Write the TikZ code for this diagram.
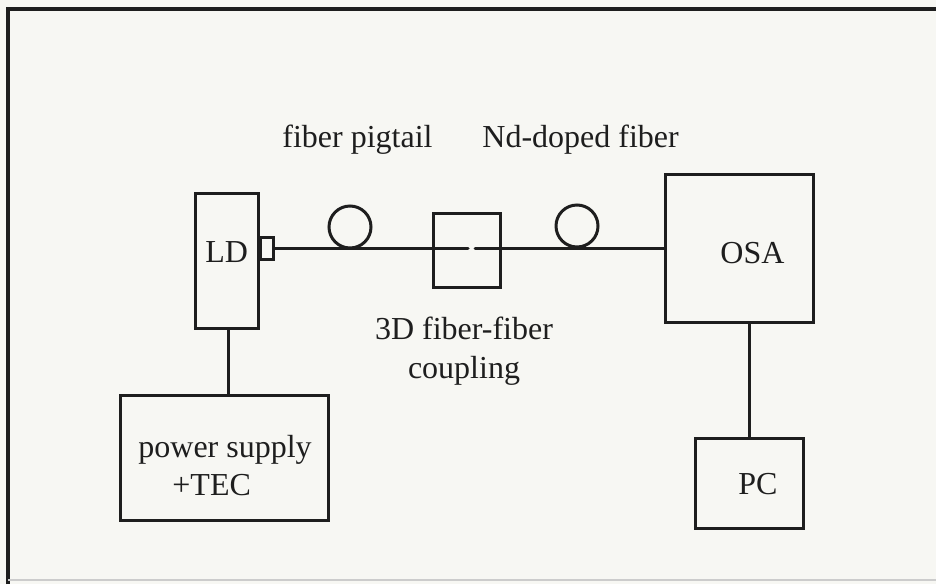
\documentclass[tikz,border=0pt]{standalone}
\usepackage{fontspec}
\setmainfont{Liberation Serif}
\definecolor{bg}{RGB}{247,247,243}
\definecolor{ink}{RGB}{30,30,30}
\begin{document}
\begin{tikzpicture}[x=0.5pt,y=-0.5pt,
  box/.style={draw=ink, line width=1.5pt, rectangle, inner sep=0pt},
  fib/.style={draw=ink, line width=1.5pt},
  loopc/.style={draw=ink, line width=1.5pt, circle, inner sep=0pt, minimum size=21pt},
  txt/.style={anchor=base west, inner sep=0pt, text=ink, font=\fontsize{16}{19.5}\selectfont}]
\fill[bg] (0,0) rectangle (936,584);
\useasboundingbox (0,0) rectangle (936,584);
% frame
\draw[ink, line width=2pt] (8,584) -- (8,9) -- (936,9);
\draw[gray!40, line width=0.8pt] (8,580) -- (936,580);
% boxes
\node[box, minimum width=31.5pt, minimum height=67.5pt] (LD) at (226.5,260.5) {};
\node[box, minimum width=6.5pt, minimum height=11pt] (sq) at (266.5,248) {};
\node[box, minimum width=104pt, minimum height=62.5pt] (PS) at (224,457.5) {};
\node[box, minimum width=33.5pt, minimum height=37pt] (CP) at (466.5,250) {};
\node[box, minimum width=74pt, minimum height=74pt] (OSA) at (739,248) {};
\node[box, minimum width=54pt, minimum height=45pt] (PC) at (749,483) {};
% fiber loops
\node[loopc] (L1) at (350,227) {};
\node[loopc] (L2) at (577,226) {};
% fibers
\coordinate (gl) at (468,248);
\coordinate (gr) at (475,248);
\draw[fib, line cap=round] (sq.east) -- (gl);
\draw[fib, line cap=round] (gr) -- (OSA.west);
% electrical connections
\draw[fib] (LD.south -| PS.north) ++(4,0) coordinate (ldb) -- (ldb |- PS.north);
\draw[fib] (PC.north) -- (PC.north |- OSA.south);
% texts
\node[txt] (tLD) at (205,262) {LD};
\node[txt] (tOSA) at (720,263) {OSA};
\node[txt] (tPC) at (738,494) {PC};
\node[txt] (tPS1) at (138,457) {power supply};
\node[txt] (tPS2) at (172,495) {+TEC};
\node[txt] (tFP) at (282,147) {fiber pigtail};
\node[txt] (tND) at (482,147) {Nd-doped fiber};
\node[anchor=base, inner sep=0pt, text=ink, font=\fontsize{16}{19.5}\selectfont, align=center] (tCP) at (464,378) {3D fiber-fiber\\coupling};
\end{tikzpicture}
\end{document}
